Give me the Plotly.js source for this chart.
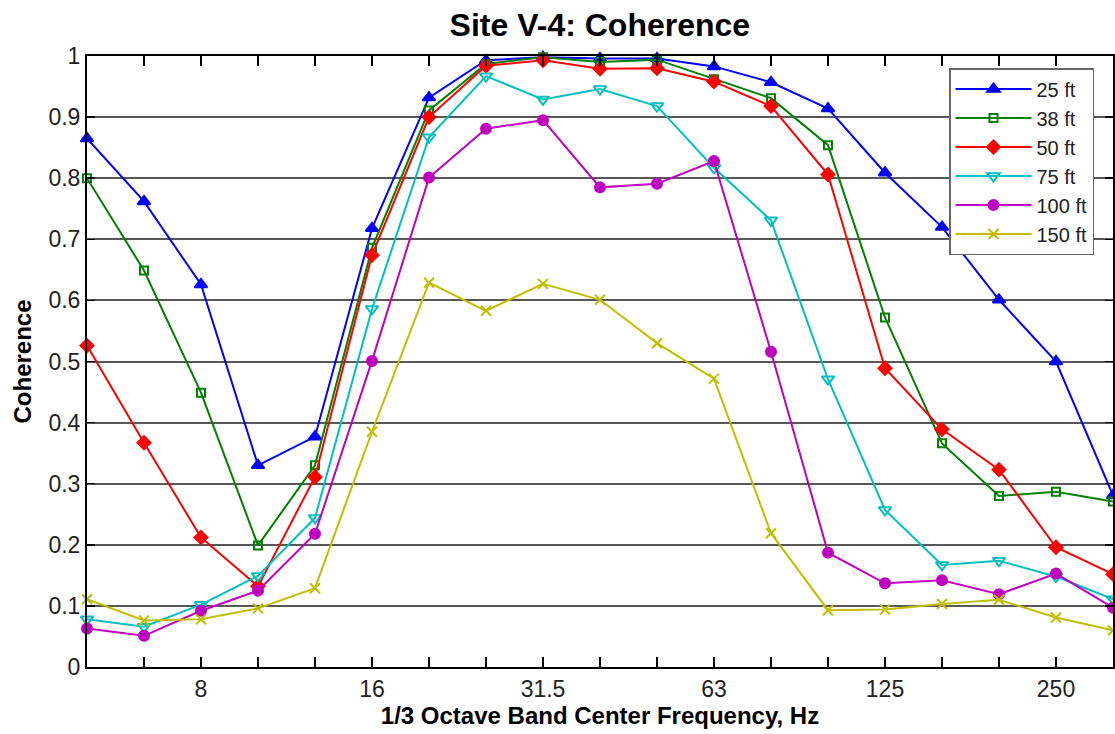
<!DOCTYPE html>
<html>
<head>
<meta charset="utf-8">
<script src="https://cdn.plot.ly/plotly-3.0.1.min.js"></script>
<style>html,body{margin:0;padding:0;background:#fff;}#chart{width:1115px;height:734px;}</style>
</head>
<body>
<div id="chart"></div>
<script>
const freqs = ['5','6.3','8','10','12.5','16','20','25','31.5','40','50','63','80','100','125','160','200','250','315'];
const labeledFreqs = ['8','16','31.5','63','125','250'];
const yTicks = [0,0.1,0.2,0.3,0.4,0.5,0.6,0.7,0.8,0.9,1];
const yTickText = ['0','0.1','0.2','0.3','0.4','0.5','0.6','0.7','0.8','0.9','1'];

const ft25  = [0.865,0.762,0.626,0.330,0.377,0.718,0.932,0.993,0.998,0.996,0.996,0.983,0.957,0.914,0.809,0.720,0.601,0.500,0.281];
const ft38  = [0.800,0.649,0.449,0.199,0.330,0.686,0.911,0.987,0.998,0.990,0.994,0.962,0.931,0.854,0.572,0.366,0.280,0.287,0.271];
const ft50  = [0.526,0.367,0.212,0.132,0.311,0.674,0.900,0.984,0.993,0.979,0.980,0.958,0.918,0.806,0.489,0.389,0.323,0.196,0.152];
const ft75  = [0.078,0.066,0.102,0.149,0.244,0.586,0.867,0.967,0.929,0.946,0.918,0.817,0.731,0.471,0.257,0.167,0.174,0.148,0.111];
const ft100 = [0.063,0.051,0.092,0.125,0.218,0.501,0.801,0.881,0.895,0.785,0.791,0.828,0.516,0.187,0.137,0.142,0.119,0.153,0.097];
const ft150 = [0.111,0.076,0.078,0.096,0.129,0.385,0.629,0.583,0.627,0.601,0.530,0.472,0.219,0.093,0.094,0.103,0.110,0.081,0.060];

const seriesNames = ['25 ft','38 ft','50 ft','75 ft','100 ft','150 ft'];
const seriesData = [ft25, ft38, ft50, ft75, ft100, ft150];
const colors = ['#0000FF','#008000','#FF0000','#00BFBF','#BF00BF','#BFBF00'];
const symbols = ['triangle-up','square-open','diamond','triangle-down-open','circle','x-thin-open'];
const sizes = [11, 8, 10, 11, 10, 10];

const traces = seriesData.map((ys, k) => ({
  x: freqs, y: ys, name: seriesNames[k], type: 'scatter', mode: 'lines+markers',
  cliponaxis: false,
  line: {color: colors[k], width: 2},
  marker: {symbol: symbols[k], size: sizes[k], color: colors[k], line: {color: colors[k], width: 2}}
}));

const fontFam = '"Liberation Sans", Arial, Helvetica, sans-serif';
const layout = {
  width: 1115, height: 734,
  margin: {l: 87, r: 2, t: 56, b: 67},
  paper_bgcolor: '#fff', plot_bgcolor: '#fff',
  font: {family: fontFam, size: 23, color: '#000'},
  title: {text: 'Site V-4: Coherence', font: {family: fontFam, size: 32, weight: 'bold', color: '#000'},
          x: 0.538, xanchor: 'center', y: 1 - 25/734, yanchor: 'middle'},
  xaxis: {
    type: 'category', range: [0, 18],
    tickmode: 'array', tickvals: freqs,
    ticktext: freqs.map(f => labeledFreqs.includes(f) ? f : ''),
    ticks: 'inside', ticklen: 10, tickwidth: 1.5, tickcolor: '#000',
    showline: true, linecolor: '#000', linewidth: 2, mirror: 'ticks',
    showgrid: false, zeroline: false,
    tickfont: {size: 23, color: '#222'},
    title: {text: '1/3 Octave Band Center Frequency, Hz', font: {size: 24, weight: 'bold', color: '#000'}, standoff: 6}
  },
  yaxis: {
    range: [0, 1], tickmode: 'array', tickvals: yTicks, ticktext: yTickText,
    ticks: 'inside', ticklen: 8, tickwidth: 1.5, tickcolor: '#000',
    showline: true, linecolor: '#000', linewidth: 2, mirror: 'ticks',
    showgrid: true, gridcolor: '#585858', gridwidth: 2, zeroline: false,
    tickfont: {size: 23, color: '#222'},
    title: {text: 'Coherence', font: {size: 24, weight: 'bold', color: '#000'}, standoff: 10}
  },
  legend: {
    x: (949-87)/1026, y: (667-68)/611, xanchor: 'left', yanchor: 'top',
    bgcolor: '#fff', bordercolor: '#666', borderwidth: 1.5,
    font: {size: 20, color: '#222'}, tracegroupgap: 0, itemwidth: 76
  },
  showlegend: true
};

Plotly.newPlot('chart', traces, layout, {displayModeBar: false, staticPlot: true});
</script>
</body>
</html>
